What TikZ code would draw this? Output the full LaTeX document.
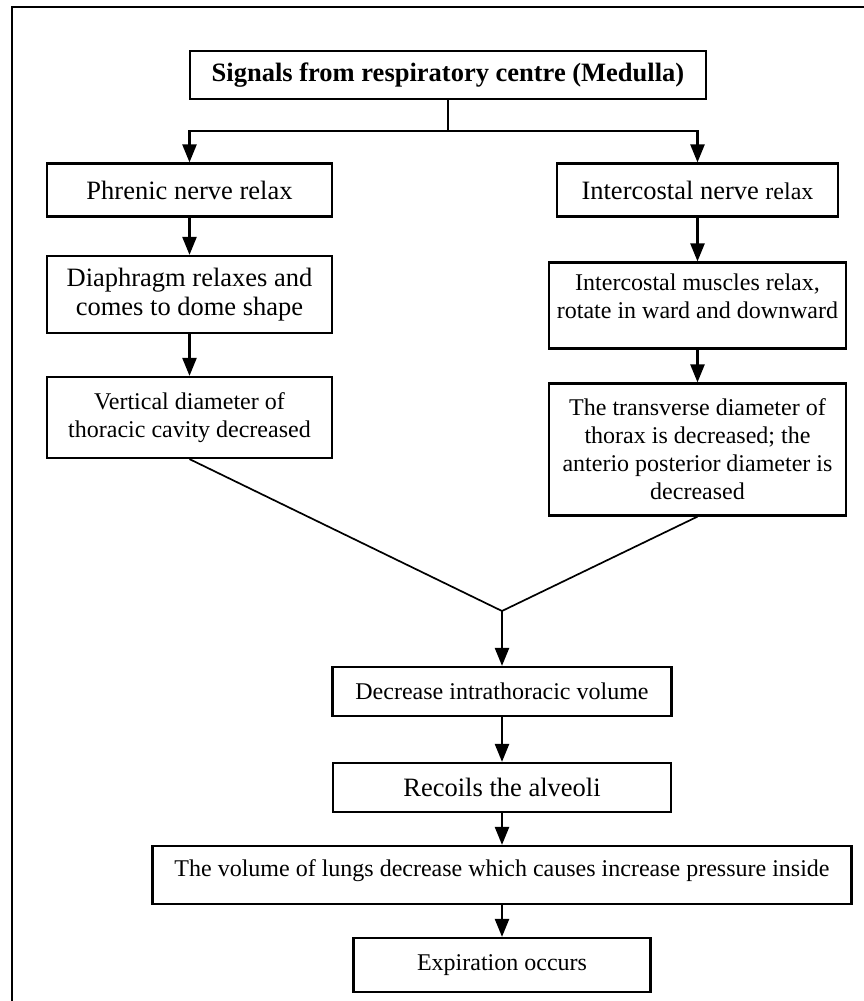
\documentclass[tikz,border=0pt]{standalone}
\usepackage{fontspec}
\setmainfont{Liberation Serif}
\usetikzlibrary{arrows.meta}

\newcommand{\boxbig}{\fontsize{26.5}{29}\selectfont}
\newcommand{\boxsmall}{\fontsize{24}{28}\selectfont}

\begin{document}
\begin{tikzpicture}[x=1pt, y=-1pt,
        flowbox/.style={draw, line width=2.2pt, inner sep=0pt, align=center},
        arrow/.style={line width=2.4pt, -{Triangle[length=18pt,width=14pt]}},
        joinline/.style={line width=1.7pt}]
        \useasboundingbox (0,0) rectangle (863,1001);

        % Draw the outer frame (runs off the page on the right and bottom)
        \draw[line width=2.2pt] (12,7) rectangle (890,1020);

        % Top box
        \node[flowbox, font=\boxbig\bfseries, minimum width=516pt, minimum height=48pt] (signals) at (448,75) {Signals from respiratory centre (Medulla)};

        % Left column
        \node[flowbox, font=\boxbig, minimum width=285pt, minimum height=53pt] (phrenic) at (189.5,190) {Phrenic nerve relax};
        \node[flowbox, font=\boxbig, minimum width=285pt, minimum height=77pt] (diaphragm) at (189.5,294.5) {Diaphragm relaxes and\\comes to dome shape};
        \node[flowbox, font=\boxsmall, minimum width=285pt, minimum height=81pt] (vertical) at (189.5,417.5) {Vertical diameter of\\thoracic cavity decreased};

        % Right column
        \node[flowbox, font=\boxbig, minimum width=281pt, minimum height=53pt] (icnerve) at (697.5,190) {Intercostal nerve {\boxsmall relax}};
        \node[flowbox, font=\boxsmall, minimum width=297pt, minimum height=86pt] (icmuscle) at (697.5,305.5) {Intercostal muscles relax,\\rotate in ward and downward\rule[-18pt]{0pt}{18pt}};
        \node[flowbox, font=\boxsmall, minimum width=297pt, minimum height=132pt] (transverse) at (697.5,449.5) {The transverse diameter of\\thorax is decreased; the\\anterio posterior diameter is\\decreased};

        % Bottom column
        \coordinate (merge) at (502,611);
        \node[flowbox, font=\boxsmall, minimum width=339pt, minimum height=49pt] (volume) at (502,691.5) {Decrease intrathoracic volume};
        \node[flowbox, font=\boxbig, minimum width=338pt, minimum height=49pt] (recoil) at (502,787.5) {Recoils the alveoli};
        \node[flowbox, font=\boxsmall, minimum width=699pt, minimum height=58pt] (lungs) at (502,875) {The volume of lungs decrease which causes increase pressure inside\rule[-14pt]{0pt}{14pt}};
        \node[flowbox, font=\boxsmall, minimum width=297pt, minimum height=54pt] (expiration) at (502,965) {Expiration occurs};

        % Fork from the top box into the two columns
        \draw[line width=2.4pt] (signals.south) -- ++(0,31) coordinate (fork);
        \draw[arrow] (fork) -| (phrenic.north);
        \draw[arrow] (fork) -| (icnerve.north);

        % Straight arrows down each column
        \foreach \a/\b in {phrenic/diaphragm, diaphragm/vertical, icnerve/icmuscle, icmuscle/transverse, volume/recoil, recoil/lungs, lungs/expiration} {
            \draw[arrow] (\a.south) -- (\b.north);
        }

        % Both columns meet and go on down
        \draw[joinline] (vertical.south) -- (merge) -- (transverse.south);
        \draw[arrow] (merge) -- (volume.north);
    \end{tikzpicture}
\end{document}
